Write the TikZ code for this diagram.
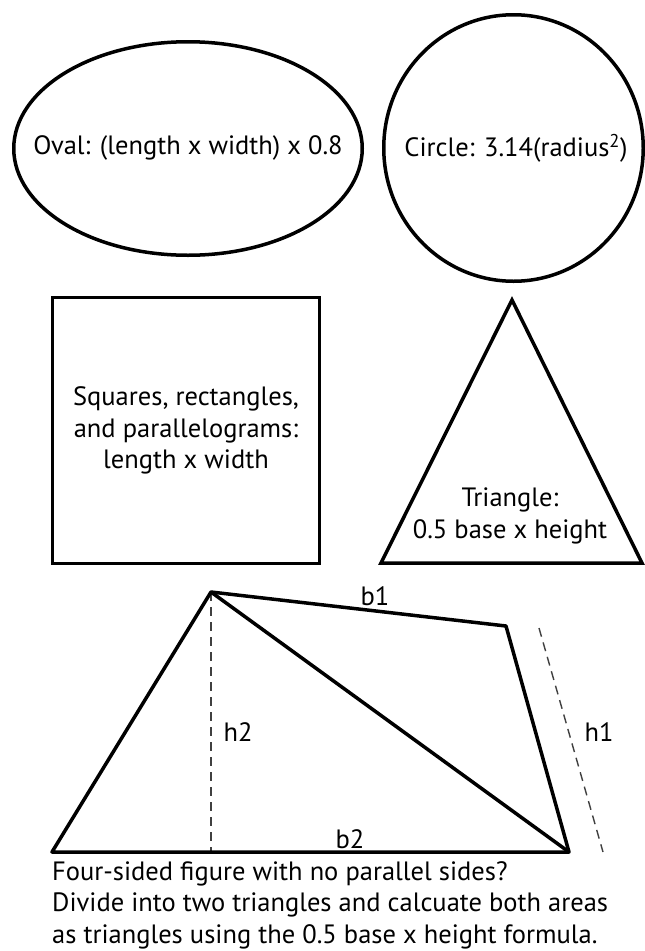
\documentclass[tikz,border=0pt]{standalone}
\usepackage{fontspec}
\setmainfont{PT Sans}
\usetikzlibrary{positioning, shapes.geometric}

\begin{document}
\begin{tikzpicture}[
  x=1pt, y=-1pt,
  font=\fontsize{26.5}{31.5}\selectfont,
  shp/.style={draw=black, line width=3.5pt, align=center, inner sep=0pt},
  edge/.style={draw=black, line width=3.5pt, line join=round},
  guide/.style={draw=black!75, line width=1.4pt, dash pattern=on 9pt off 6pt},
  lbl/.style={inner sep=0pt},
]
\useasboundingbox (0,0) rectangle (645,951);

% ── top row: oval and circle ────────────────────────────────────────────────
\node[lbl] (oval) at (188,148) {Oval: (length x width) x 0.8};
\node[lbl] (circ) at (516,148) {Circle: 3.14(radius\textsuperscript{2})};
\draw[edge] (188,148.5) ellipse [x radius=174.25, y radius=106.75];
\draw[edge] (513.5,148) ellipse [x radius=129.75, y radius=133.25];

% ── middle row: square and triangle ─────────────────────────────────────────
\node[shp, rectangle, minimum width=267pt, minimum height=266pt] (sq) at (186,430.5)
    {Squares, rectangles,\\and parallelograms:\\length x width};

\coordinate (tA) at (512,300);
\coordinate (tL) at (381,563);
\coordinate (tR) at (642,563);
\draw[edge, line join=miter] (tA) -- (tL) -- (tR) -- cycle;
\node[lbl, align=center] (tri) at (510,516) {Triangle:\\0.5 base x height};

% ── four-sided figure ───────────────────────────────────────────────────────
\coordinate (A) at (211,592);
\coordinate (B) at (506,626);
\coordinate (C) at (569,852);
\coordinate (D) at (52,852);
\coordinate (foot) at (A |- D);
\coordinate (h1top) at (539,628);
\coordinate (h1bot) at (603,852);

\draw[guide] (A) -- (foot);
\draw[guide] (h1top) -- (h1bot);
\draw[edge] (D) -- (A) -- (B) -- (C) -- cycle;
\draw[edge] (A) -- (C);

\node[lbl] (b1) at (375,596) {b1};
\node[lbl] (b2) at (350,839) {b2};
\node[lbl] (h2) at (238,732) {h2};
\node[lbl] (h1) at (599,732) {h1};

% ── caption ─────────────────────────────────────────────────────────────────
\node[lbl, align=left, anchor=north west] (note) at (52,861)
    {Four-sided figure with no parallel sides?\\
     Divide into two triangles and calcuate both areas\\
     as triangles using the 0.5 base x height formula.};

\end{tikzpicture}
\end{document}
